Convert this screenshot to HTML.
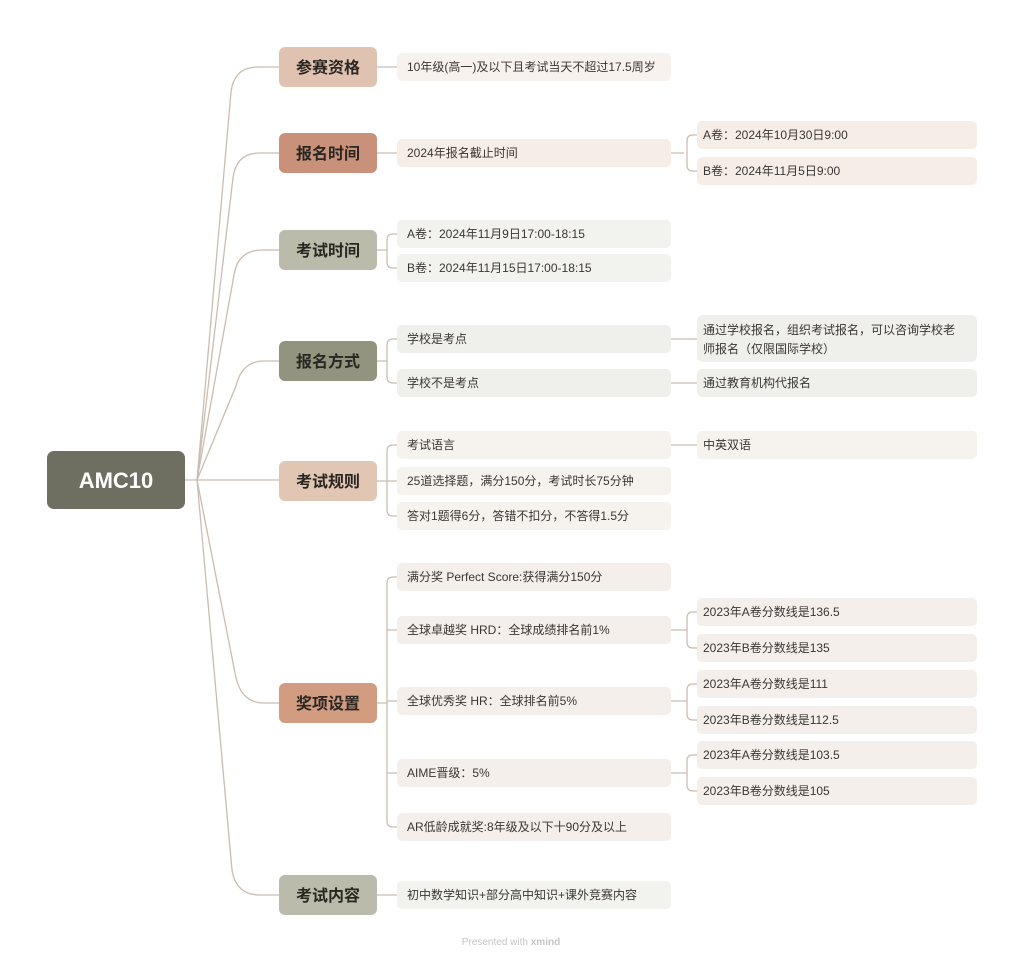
<!DOCTYPE html>
<html><head><meta charset="utf-8"><style>
html,body{margin:0;padding:0;background:#fff;}
svg text{font-family:"Liberation Sans","Noto Sans CJK SC",sans-serif;}
.b{font-size:16px;font-weight:bold;fill:#2a2622;}
.l{font-size:12px;fill:#3a3633;}
</style></head><body>
<svg width="1024" height="962" viewBox="0 0 1024 962" xmlns="http://www.w3.org/2000/svg">
<g fill="none" stroke="#cbbcb0" stroke-width="1.3">
<path d="M185 480 L197 480 L231 92 Q234 67 258 67 L279 67"/>
<path d="M197 480 L233 178 Q236 153 260 153 L279 153"/>
<path d="M197 480 L234 275 Q238 250 262 250 L279 250"/>
<path d="M197 480 L236 386 Q242 361 264 361 L279 361"/>
<path d="M197 480 L279 480"/>
<path d="M197 480 L236 678 Q242 703 264 703 L279 703"/>
<path d="M197 480 L232 870 Q236 895 260 895 L279 895"/>
<!-- branch to leaves -->
<path d="M377 67 L397 67"/>
<path d="M377 153 L397 153"/>
<path d="M377 250 L387 250 M397 234 L393 234 Q387 234 387 240 L387 262 Q387 268 393 268 L397 268"/>
<path d="M377 361 L387 361 M397 339 L393 339 Q387 339 387 345 L387 377 Q387 383 393 383 L397 383"/>
<path d="M377 481 L397 481 M397 445 L393 445 Q387 445 387 451 L387 510 Q387 516 393 516 L397 516"/>
<path d="M377 703 L387 703 M397 577 L393 577 Q387 577 387 583 L387 821 Q387 827 393 827 L397 827 M387 630 L397 630 M387 701 L397 701 M387 773 L397 773"/>
<path d="M377 895 L397 895"/>
<!-- leaf to subleaf -->
<path d="M671 153 L684 153 M697 135 L693 135 Q687 135 687 141 L687 165 Q687 171 693 171 L697 171"/>
<path d="M671 339 L697 339 M671 383 L697 383 M671 445 L697 445"/>
<path d="M671 630 L687 630 M697 612 L693 612 Q687 612 687 618 L687 642 Q687 648 693 648 L697 648"/>
<path d="M671 701 L687 701 M697 684 L693 684 Q687 684 687 690 L687 714 Q687 720 693 720 L697 720"/>
<path d="M671 773 L687 773 M697 755 L693 755 Q687 755 687 761 L687 785 Q687 791 693 791 L697 791"/>
</g>
<!-- root -->
<rect x="47" y="451" width="138" height="58" rx="7" fill="#6e6f60"/>
<text x="116" y="488" text-anchor="middle" font-size="22" font-weight="bold" fill="#fff">AMC10</text>
<!-- branches -->
<g>
<rect x="279" y="47" width="98" height="40" rx="6" fill="#dfc3b0"/><text class="b" x="328" y="73" text-anchor="middle">参赛资格</text>
<rect x="279" y="133" width="98" height="40" rx="6" fill="#c9917a"/><text class="b" x="328" y="159" text-anchor="middle">报名时间</text>
<rect x="279" y="230" width="98" height="40" rx="6" fill="#babbaa"/><text class="b" x="328" y="256" text-anchor="middle">考试时间</text>
<rect x="279" y="341" width="98" height="40" rx="6" fill="#92947f"/><text class="b" x="328" y="367" text-anchor="middle">报名方式</text>
<rect x="279" y="461" width="98" height="40" rx="6" fill="#e0c6b3"/><text class="b" x="328" y="487" text-anchor="middle">考试规则</text>
<rect x="279" y="683" width="98" height="40" rx="6" fill="#d19c80"/><text class="b" x="328" y="709" text-anchor="middle">奖项设置</text>
<rect x="279" y="875" width="98" height="40" rx="6" fill="#babbaa"/><text class="b" x="328" y="901" text-anchor="middle">考试内容</text>
</g>
<!-- leaves -->
<g>
<rect x="397" y="53" width="274" height="28" rx="5" fill="#f8f2ef"/><text class="l" x="407" y="71">10年级(高一)及以下且考试当天不超过17.5周岁</text>
<rect x="397" y="139" width="274" height="28" rx="5" fill="#f7ede7"/><text class="l" x="407" y="157">2024年报名截止时间</text>
<rect x="697" y="121" width="280" height="28" rx="5" fill="#f7ede7"/><text class="l" x="703" y="139">A卷：2024年10月30日9:00</text>
<rect x="697" y="157" width="280" height="28" rx="5" fill="#f7ede7"/><text class="l" x="703" y="175">B卷：2024年11月5日9:00</text>
<rect x="397" y="220" width="274" height="28" rx="5" fill="#f2f2ef"/><text class="l" x="407" y="238">A卷：2024年11月9日17:00-18:15</text>
<rect x="397" y="254" width="274" height="28" rx="5" fill="#f2f2ef"/><text class="l" x="407" y="272">B卷：2024年11月15日17:00-18:15</text>
<rect x="397" y="325" width="274" height="28" rx="5" fill="#efefec"/><text class="l" x="407" y="343">学校是考点</text>
<rect x="397" y="369" width="274" height="28" rx="5" fill="#efefec"/><text class="l" x="407" y="387">学校不是考点</text>
<rect x="697" y="315" width="280" height="47" rx="6" fill="#efefec"/><text class="l" x="703" y="334">通过学校报名，组织考试报名，可以咨询学校老</text><text class="l" x="703" y="353">师报名（仅限国际学校）</text>
<rect x="697" y="369" width="280" height="28" rx="5" fill="#efefec"/><text class="l" x="703" y="387">通过教育机构代报名</text>
<rect x="397" y="431" width="274" height="28" rx="5" fill="#f6f2ee"/><text class="l" x="407" y="449">考试语言</text>
<rect x="697" y="431" width="280" height="28" rx="5" fill="#f6f2ee"/><text class="l" x="703" y="449">中英双语</text>
<rect x="397" y="467" width="274" height="28" rx="5" fill="#f6f2ee"/><text class="l" x="407" y="485">25道选择题，满分150分，考试时长75分钟</text>
<rect x="397" y="502" width="274" height="28" rx="5" fill="#f6f2ee"/><text class="l" x="407" y="520">答对1题得6分，答错不扣分，不答得1.5分</text>
<rect x="397" y="563" width="274" height="28" rx="5" fill="#f4efea"/><text class="l" x="407" y="581">满分奖 Perfect Score:获得满分150分</text>
<rect x="397" y="616" width="274" height="28" rx="5" fill="#f4efea"/><text class="l" x="407" y="634">全球卓越奖 HRD：全球成绩排名前1%</text>
<rect x="397" y="687" width="274" height="28" rx="5" fill="#f4efea"/><text class="l" x="407" y="705">全球优秀奖 HR：全球排名前5%</text>
<rect x="397" y="759" width="274" height="28" rx="5" fill="#f4efea"/><text class="l" x="407" y="777">AIME晋级：5%</text>
<rect x="397" y="813" width="274" height="28" rx="5" fill="#f4efea"/><text class="l" x="407" y="831">AR低龄成就奖:8年级及以下十90分及以上</text>
<rect x="697" y="598" width="280" height="28" rx="5" fill="#f4efea"/><text class="l" x="703" y="616">2023年A卷分数线是136.5</text>
<rect x="697" y="634" width="280" height="28" rx="5" fill="#f4efea"/><text class="l" x="703" y="652">2023年B卷分数线是135</text>
<rect x="697" y="670" width="280" height="28" rx="5" fill="#f4efea"/><text class="l" x="703" y="688">2023年A卷分数线是111</text>
<rect x="697" y="706" width="280" height="28" rx="5" fill="#f4efea"/><text class="l" x="703" y="724">2023年B卷分数线是112.5</text>
<rect x="697" y="741" width="280" height="28" rx="5" fill="#f4efea"/><text class="l" x="703" y="759">2023年A卷分数线是103.5</text>
<rect x="697" y="777" width="280" height="28" rx="5" fill="#f4efea"/><text class="l" x="703" y="795">2023年B卷分数线是105</text>
<rect x="397" y="881" width="274" height="28" rx="5" fill="#f2f2ef"/><text class="l" x="407" y="899">初中数学知识+部分高中知识+课外竞赛内容</text>
</g>
<text x="511" y="945" text-anchor="middle" font-size="10" fill="#c4c4c4">Presented with <tspan font-weight="bold">xmind</tspan></text>
</svg>
</body></html>
